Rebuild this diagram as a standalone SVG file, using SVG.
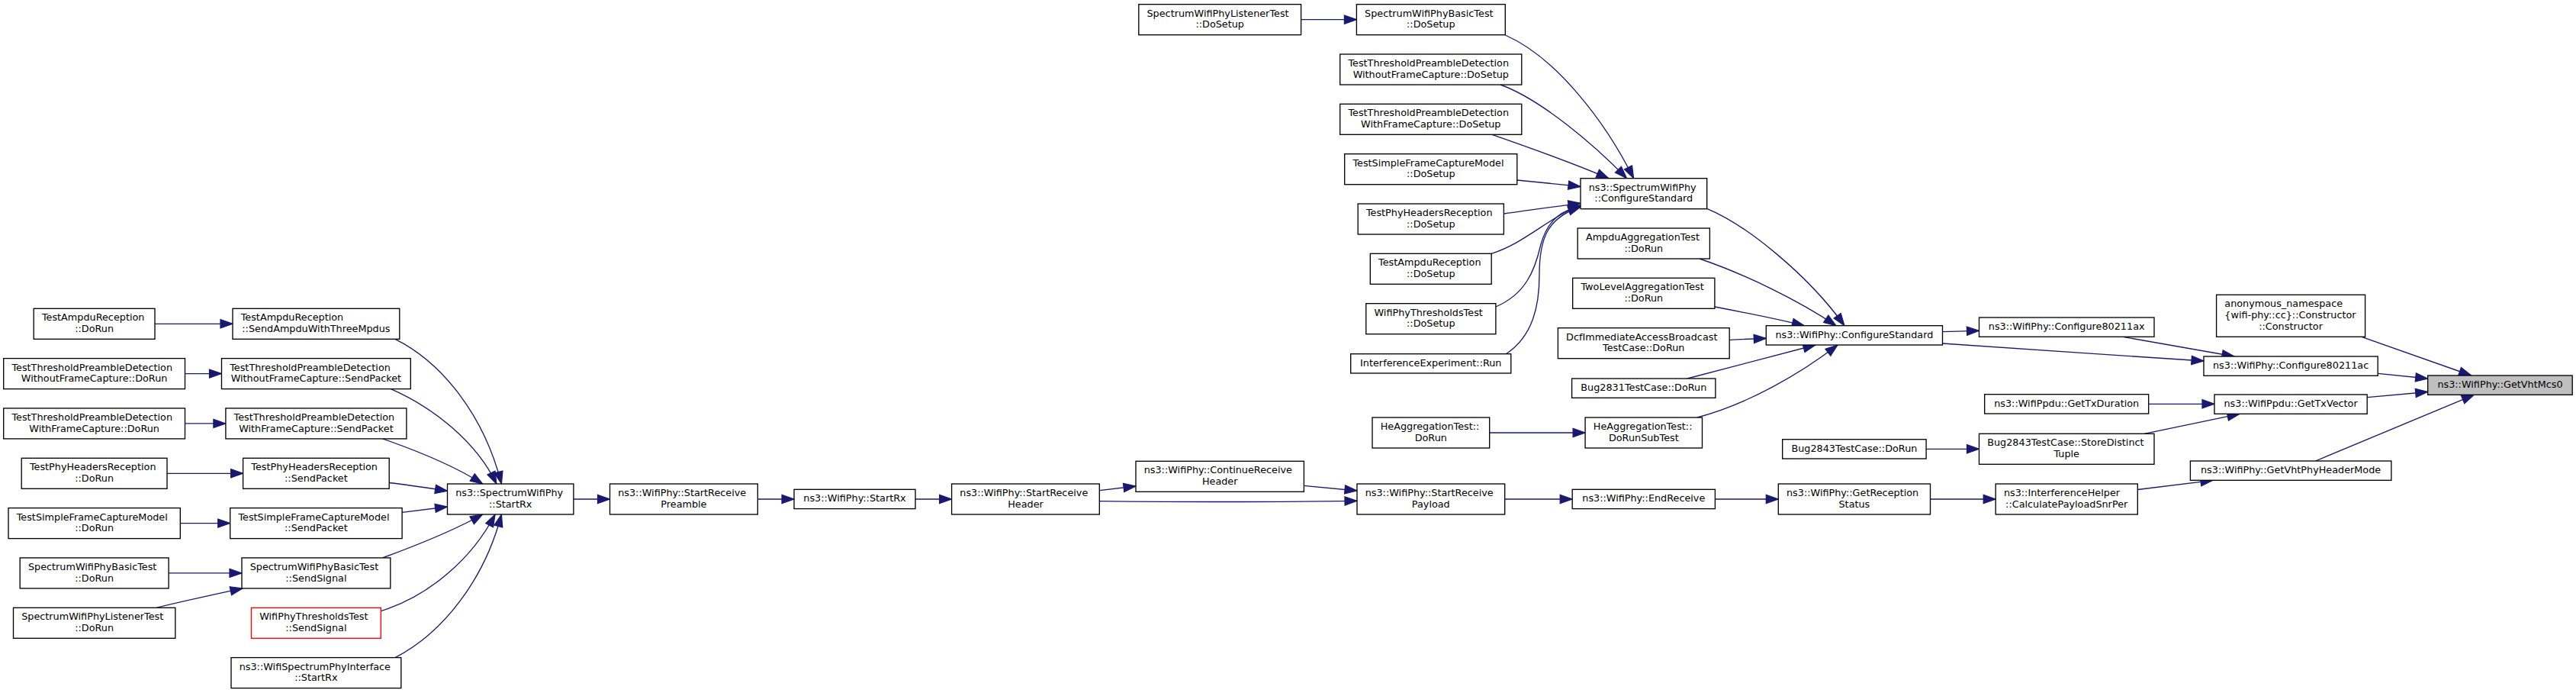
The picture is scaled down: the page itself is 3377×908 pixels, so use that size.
<svg xmlns="http://www.w3.org/2000/svg" width="3377" height="908" viewBox="0 0 3377 908">
<style>
.n rect{fill:#fff;stroke:#000;stroke-width:1.33}
.n.r rect{stroke:#ff0000}
.n.root rect{fill:#bfbfbf}
text{font-family:"DejaVu Sans",sans-serif;font-size:12.8px;fill:#000}
.s{text-anchor:start}
.m{text-anchor:middle}
.e path{fill:none;stroke:#191970;stroke-width:1.33;marker-end:url(#a)}
</style>
<defs>
<marker id="a" markerUnits="userSpaceOnUse" markerWidth="16" markerHeight="12" viewBox="0 0 13.3 9.34" refX="13.3" refY="4.67" orient="auto" overflow="visible">
<path d="M0,0 L13.3,4.67 L0,9.34 z" fill="#191970" stroke="#191970" stroke-width="1"/>
</marker>
</defs>
<rect width="3377" height="908" fill="#fff"/>
<g id="edges" class="e">
<path d="M203,424.3 L305,424.3"/>
<path d="M242.5,489.6 L290.5,489.6"/>
<path d="M242.5,554.9 L295.9,554.9"/>
<path d="M219,620.3 L318.6,620.3"/>
<path d="M236.3,685.6 L301.7,685.6"/>
<path d="M221.1,750.9 L317,750.9"/>
<path d="M205,796.3 C235,789 280,779 318,770.9"/>
<path d="M518,444.3 C580,475 635,545 657.4,634"/>
<path d="M512.5,509.6 C570,535 625,580 650.9,634"/>
<path d="M501.6,574.9 C545,590 595,610 632.7,634"/>
<path d="M510.2,632.5 C540,636 565,640 586.5,643.3"/>
<path d="M527.1,671.3 C545,669 565,666.5 586.5,664"/>
<path d="M501.6,730.9 C545,715 595,695 632.7,674"/>
<path d="M499.3,800.7 C565,780 620,730 649,674"/>
<path d="M518,861.6 C580,830 635,760 657.4,674"/>
<path d="M751.9,654 L799.5,654"/>
<path d="M993.3,654 L1041,654"/>
<path d="M1200,654 L1247.6,654"/>
<path d="M1441.3,642.7 L1489,637"/>
<path d="M1441.3,656.7 C1550,658 1680,657.5 1779,656.3"/>
<path d="M1709.4,636.3 L1779,643"/>
<path d="M1972.6,654 L2061.2,654"/>
<path d="M2248.4,654 L2331.3,654"/>
<path d="M2530.5,654 L2616.2,654"/>
<path d="M2802.3,641.5 C2830,638 2865,633.5 2901,629.3"/>
<path d="M3035.5,604 L3243.4,517.3"/>
<path d="M3103.2,520.7 L3182.7,513.5"/>
<path d="M3117.2,489.3 L3182.7,496"/>
<path d="M3096,441.3 L3239.7,492"/>
<path d="M2816.7,529.3 L2903,529.3"/>
<path d="M2811,568.3 L2936,542.3"/>
<path d="M2525.1,588.3 L2594.5,588.3"/>
<path d="M2783,441.3 L2929,467"/>
<path d="M2546.5,450 C2650,457 2780,466 2889,473"/>
<path d="M2546.5,434.7 L2594.5,433.3"/>
<path d="M2237.7,273.3 C2290,295 2370,360 2418,426.7"/>
<path d="M2228,339 C2290,360 2360,395 2407,426.7"/>
<path d="M2247.9,402 C2290,410 2330,418 2365.4,426.7"/>
<path d="M2267.2,445.3 L2315.3,443.3"/>
<path d="M2212,496 L2380,452"/>
<path d="M2225,547 C2290,530 2360,490 2409,452"/>
<path d="M1952.7,567 L2078.1,567"/>
<path d="M1973.3,46 C2040,75 2105,160 2141.6,233.7"/>
<path d="M1967,111 C2020,130 2090,190 2132.6,233.7"/>
<path d="M1956,176.3 C2010,195 2065,215 2109,233.7"/>
<path d="M1988.8,236 C2020,239 2045,241.5 2072,244.5"/>
<path d="M1971.4,280 C2005,275 2040,270.5 2072,266.3"/>
<path d="M1955.2,332.3 C2000,318 2030,285 2072,269"/>
<path d="M1961,402 C2000,385 2012,355 2020,320 C2030,285 2050,275 2072.5,270.5"/>
<path d="M1974.4,463.7 C2010,440 2018,400 2018,360 C2018,310 2030,285 2072,271"/>
<path d="M1705.6,25.7 L1778.4,25.7"/>
</g>
<g id="nodes">
<g id="n_ampdu_dorun" class="n"><rect x="44.2" y="404.3" width="158.8" height="40"/><text class="s" x="54.9" y="420.3">TestAmpduReception</text><text class="m" x="123.6" y="435">::DoRun</text></g>
<g id="n_ttpd_wo_dorun" class="n"><rect x="4.7" y="469.6" width="237.8" height="40"/><text class="s" x="15.4" y="485.6">TestThresholdPreambleDetection</text><text class="m" x="123.6" y="500.3">WithoutFrameCapture::DoRun</text></g>
<g id="n_ttpd_w_dorun" class="n"><rect x="4.7" y="534.9" width="237.8" height="40"/><text class="s" x="15.4" y="550.9">TestThresholdPreambleDetection</text><text class="m" x="123.6" y="565.6">WithFrameCapture::DoRun</text></g>
<g id="n_phyh_dorun" class="n"><rect x="28.2" y="600.3" width="190.8" height="40"/><text class="s" x="38.9" y="616.3">TestPhyHeadersReception</text><text class="m" x="123.6" y="631">::DoRun</text></g>
<g id="n_sfc_dorun" class="n"><rect x="11" y="665.6" width="225.3" height="40"/><text class="s" x="21.7" y="681.6">TestSimpleFrameCaptureModel</text><text class="m" x="123.6" y="696.3">::DoRun</text></g>
<g id="n_basic_dorun" class="n"><rect x="26.2" y="730.9" width="194.9" height="40"/><text class="s" x="36.9" y="746.9">SpectrumWifiPhyBasicTest</text><text class="m" x="123.6" y="761.6">::DoRun</text></g>
<g id="n_listener_dorun" class="n"><rect x="17.5" y="796.3" width="212.3" height="40"/><text class="s" x="28.2" y="812.3">SpectrumWifiPhyListenerTest</text><text class="m" x="123.6" y="827">::DoRun</text></g>
<g id="n_sendampdu" class="n"><rect x="305" y="404.3" width="218.8" height="40"/><text class="s" x="315.7" y="420.3">TestAmpduReception</text><text class="m" x="414.4" y="435">::SendAmpduWithThreeMpdus</text></g>
<g id="n_ttpd_wo_send" class="n"><rect x="290.5" y="469.6" width="247.8" height="40"/><text class="s" x="301.2" y="485.6">TestThresholdPreambleDetection</text><text class="m" x="414.4" y="500.3">WithoutFrameCapture::SendPacket</text></g>
<g id="n_ttpd_w_send" class="n"><rect x="295.9" y="534.9" width="237" height="40"/><text class="s" x="306.6" y="550.9">TestThresholdPreambleDetection</text><text class="m" x="414.4" y="565.6">WithFrameCapture::SendPacket</text></g>
<g id="n_phyh_send" class="n"><rect x="318.6" y="600.3" width="191.6" height="40"/><text class="s" x="329.3" y="616.3">TestPhyHeadersReception</text><text class="m" x="414.4" y="631">::SendPacket</text></g>
<g id="n_sfc_send" class="n"><rect x="301.7" y="665.6" width="225.4" height="40"/><text class="s" x="312.4" y="681.6">TestSimpleFrameCaptureModel</text><text class="m" x="414.4" y="696.3">::SendPacket</text></g>
<g id="n_basic_send" class="n"><rect x="317" y="730.9" width="194.8" height="40"/><text class="s" x="327.7" y="746.9">SpectrumWifiPhyBasicTest</text><text class="m" x="414.4" y="761.6">::SendSignal</text></g>
<g id="n_thr_send" class="n r"><rect x="329.5" y="796.3" width="169.8" height="40"/><text class="s" x="340.2" y="812.3">WifiPhyThresholdsTest</text><text class="m" x="414.4" y="827">::SendSignal</text></g>
<g id="n_wspi_startrx" class="n"><rect x="303" y="861.6" width="222.8" height="40"/><text class="s" x="313.7" y="877.6">ns3::WifiSpectrumPhyInterface</text><text class="m" x="414.4" y="892.3">::StartRx</text></g>
<g id="n_swp_startrx" class="n"><rect x="586.5" y="634" width="165.4" height="40"/><text class="s" x="597.2" y="650">ns3::SpectrumWifiPhy</text><text class="m" x="669.2" y="664.7">::StartRx</text></g>
<g id="n_srpreamble" class="n"><rect x="799.5" y="634" width="193.8" height="40"/><text class="s" x="810.2" y="650">ns3::WifiPhy::StartReceive</text><text class="m" x="896.4" y="664.7">Preamble</text></g>
<g id="n_startrx" class="n"><rect x="1041" y="641.3" width="159" height="25.3"/><text class="m" x="1120.5" y="657.3">ns3::WifiPhy::StartRx</text></g>
<g id="n_srheader" class="n"><rect x="1247.6" y="634" width="193.7" height="40"/><text class="s" x="1258.3" y="650">ns3::WifiPhy::StartReceive</text><text class="m" x="1344.5" y="664.7">Header</text></g>
<g id="n_listener_dosetup" class="n"><rect x="1492.8" y="5.7" width="212.8" height="40"/><text class="s" x="1503.5" y="21.7">SpectrumWifiPhyListenerTest</text><text class="m" x="1599.2" y="36.4">::DoSetup</text></g>
<g id="n_continue" class="n"><rect x="1489" y="604.3" width="220.4" height="40"/><text class="s" x="1499.7" y="620.3">ns3::WifiPhy::ContinueReceive</text><text class="m" x="1599.2" y="635">Header</text></g>
<g id="n_basic_dosetup" class="n"><rect x="1778.4" y="5.7" width="194.9" height="40"/><text class="s" x="1789.1" y="21.7">SpectrumWifiPhyBasicTest</text><text class="m" x="1875.8" y="36.4">::DoSetup</text></g>
<g id="n_ttpd_wo_dosetup" class="n"><rect x="1756.7" y="71" width="238.1" height="40"/><text class="s" x="1767.4" y="87">TestThresholdPreambleDetection</text><text class="m" x="1875.8" y="101.7">WithoutFrameCapture::DoSetup</text></g>
<g id="n_ttpd_w_dosetup" class="n"><rect x="1756.7" y="136.3" width="238.1" height="40"/><text class="s" x="1767.4" y="152.3">TestThresholdPreambleDetection</text><text class="m" x="1875.8" y="167">WithFrameCapture::DoSetup</text></g>
<g id="n_sfc_dosetup" class="n"><rect x="1762.7" y="201.7" width="226.1" height="40"/><text class="s" x="1773.4" y="217.7">TestSimpleFrameCaptureModel</text><text class="m" x="1875.8" y="232.4">::DoSetup</text></g>
<g id="n_phyh_dosetup" class="n"><rect x="1780.2" y="267" width="191.2" height="40"/><text class="s" x="1790.9" y="283">TestPhyHeadersReception</text><text class="m" x="1875.8" y="297.7">::DoSetup</text></g>
<g id="n_ampdu_dosetup" class="n"><rect x="1796.3" y="332.3" width="158.9" height="40"/><text class="s" x="1807" y="348.3">TestAmpduReception</text><text class="m" x="1875.8" y="363">::DoSetup</text></g>
<g id="n_thr_dosetup" class="n"><rect x="1790.8" y="397.7" width="170.1" height="40"/><text class="s" x="1801.5" y="413.7">WifiPhyThresholdsTest</text><text class="m" x="1875.8" y="428.4">::DoSetup</text></g>
<g id="n_interf_run" class="n"><rect x="1770.7" y="463.7" width="210.1" height="25.3"/><text class="m" x="1875.8" y="479.7">InterferenceExperiment::Run</text></g>
<g id="n_heagg_dorun" class="n"><rect x="1799" y="547" width="153.7" height="40"/><text class="s" x="1809.7" y="563">HeAggregationTest::</text><text class="m" x="1875.8" y="577.7">DoRun</text></g>
<g id="n_srpayload" class="n"><rect x="1779" y="634" width="193.7" height="40"/><text class="s" x="1789.7" y="650">ns3::WifiPhy::StartReceive</text><text class="m" x="1875.8" y="664.7">Payload</text></g>
<g id="n_swp_cs" class="n"><rect x="2072" y="233.7" width="165.7" height="40"/><text class="s" x="2082.7" y="249.7">ns3::SpectrumWifiPhy</text><text class="m" x="2154.8" y="264.4">::ConfigureStandard</text></g>
<g id="n_ampduagg" class="n"><rect x="2068.2" y="299" width="173.2" height="40"/><text class="s" x="2078.9" y="315">AmpduAggregationTest</text><text class="m" x="2154.8" y="329.7">::DoRun</text></g>
<g id="n_twolevel" class="n"><rect x="2061.7" y="364.3" width="186.2" height="40"/><text class="s" x="2072.4" y="380.3">TwoLevelAggregationTest</text><text class="m" x="2154.8" y="395">::DoRun</text></g>
<g id="n_dcf" class="n"><rect x="2042.4" y="429.7" width="224.8" height="40"/><text class="s" x="2053.1" y="445.7">DcfImmediateAccessBroadcast</text><text class="m" x="2154.8" y="460.4">TestCase::DoRun</text></g>
<g id="n_bug2831" class="n"><rect x="2060.6" y="496" width="188.3" height="25.3"/><text class="m" x="2154.8" y="512">Bug2831TestCase::DoRun</text></g>
<g id="n_subtest" class="n"><rect x="2078.1" y="547" width="153.4" height="40"/><text class="s" x="2088.8" y="563">HeAggregationTest::</text><text class="m" x="2154.8" y="577.7">DoRunSubTest</text></g>
<g id="n_endreceive" class="n"><rect x="2061.2" y="641.3" width="187.2" height="25.3"/><text class="m" x="2154.8" y="657.3">ns3::WifiPhy::EndReceive</text></g>
<g id="n_wp_cs" class="n"><rect x="2315.3" y="426.7" width="231.2" height="25.3"/><text class="m" x="2430.9" y="442.7">ns3::WifiPhy::ConfigureStandard</text></g>
<g id="n_bug2843_dorun" class="n"><rect x="2336.7" y="575.7" width="188.4" height="25.3"/><text class="m" x="2430.9" y="591.7">Bug2843TestCase::DoRun</text></g>
<g id="n_getrecstatus" class="n"><rect x="2331.3" y="634" width="199.2" height="40"/><text class="s" x="2342" y="650">ns3::WifiPhy::GetReception</text><text class="m" x="2430.9" y="664.7">Status</text></g>
<g id="n_conf_ax" class="n"><rect x="2594.5" y="416" width="229.5" height="25.3"/><text class="m" x="2709.2" y="432">ns3::WifiPhy::Configure80211ax</text></g>
<g id="n_gettxdur" class="n"><rect x="2601.7" y="516.7" width="215" height="25.3"/><text class="m" x="2709.2" y="532.7">ns3::WifiPpdu::GetTxDuration</text></g>
<g id="n_storedistinct" class="n"><rect x="2594.5" y="568.3" width="229.5" height="40"/><text class="s" x="2605.2" y="584.3">Bug2843TestCase::StoreDistinct</text><text class="m" x="2709.2" y="599">Tuple</text></g>
<g id="n_calcsnr" class="n"><rect x="2616.2" y="634" width="186.1" height="40"/><text class="s" x="2626.9" y="650">ns3::InterferenceHelper</text><text class="m" x="2709.2" y="664.7">::CalculatePayloadSnrPer</text></g>
<g id="n_anon" class="n"><rect x="2905.6" y="386.3" width="195" height="55"/><text class="s" x="2916.3" y="402.3">anonymous_namespace</text><text class="s" x="2916.3" y="417">{wifi-phy::cc}::Constructor</text><text class="m" x="3003.1" y="431.7">::Constructor</text></g>
<g id="n_conf_ac" class="n"><rect x="2889" y="467" width="228.2" height="25.3"/><text class="m" x="3003.1" y="483">ns3::WifiPhy::Configure80211ac</text></g>
<g id="n_gettxvector" class="n"><rect x="2903" y="517" width="200.2" height="25.3"/><text class="m" x="3003.1" y="533">ns3::WifiPpdu::GetTxVector</text></g>
<g id="n_getvhtphyhdr" class="n"><rect x="2871.4" y="604" width="263.5" height="25.3"/><text class="m" x="3003.1" y="620">ns3::WifiPhy::GetVhtPhyHeaderMode</text></g>
<g id="n_getvhtmcs0" class="n root"><rect x="3182.7" y="492" width="189.5" height="25.3"/><text class="m" x="3277.5" y="508">ns3::WifiPhy::GetVhtMcs0</text></g>
</g>
</svg>
